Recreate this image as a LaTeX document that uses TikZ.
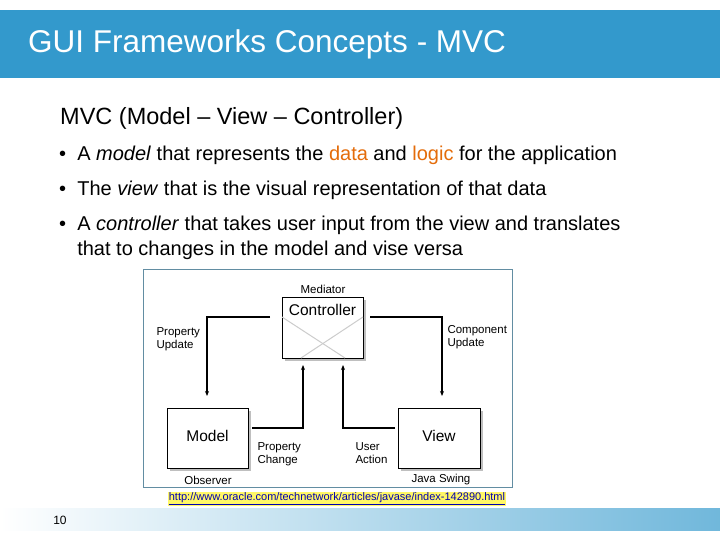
\documentclass[tikz,border=0pt]{standalone}
\usepackage{fontspec}
\setmainfont{Liberation Sans}
\usetikzlibrary{arrows.meta}
\definecolor{bar}{HTML}{3399CC}
\definecolor{orng}{HTML}{E46C0A}
\begin{document}
\begin{tikzpicture}[x=1pt,y=-1pt,
  box/.style={draw,fill=white,line width=0.8pt,inner sep=0pt},
  lab/.style={font=\fontsize{11.5}{13}\selectfont,align=left,anchor=west},
  sm/.style={font=\fontsize{11.5}{13}\selectfont},
  arr/.style={line width=1.6pt,-{Stealth[length=5pt,width=4pt]}},
  bul/.style={anchor=west,font=\fontsize{20}{25}\selectfont,align=left}]
\useasboundingbox (0,0) rectangle (720,540);
\fill[white] (0,0) rectangle (720,540);
\fill[bar] (0,10) rectangle (720,78);
\node[anchor=west,text=white,font=\fontsize{31.5}{36}\selectfont,inner sep=0pt] (title) at (28,44) {GUI Frameworks Concepts - MVC};
\shade[left color=white,right color=bar!70] (0,508) rectangle (720,530);
\node[font=\fontsize{12}{14}\selectfont] (pg) at (60,520) {10};
\node[anchor=west,inner sep=0pt,font=\fontsize{23.5}{28}\selectfont] (h) at (60,118) {MVC (Model -- View -- Controller)};
\node[bul,inner sep=0pt] (b1) at (59,155) {\textbullet\ \ A \textit{model} that represents the \textcolor{orng}{data} and \textcolor{orng}{logic} for the application};
\node[bul,inner sep=0pt] (b2) at (59,190) {\textbullet\ \ The \textit{view} that is the visual representation of that data};
\node[bul,inner sep=0pt] (b3) at (59,238) {\textbullet\ \ A \textit{controller} that takes user input from the view and translates\\\phantom{\textbullet\ \ }that to changes in the model and vise versa};
\draw[bar!60!black!70,line width=0.8pt] (143,269) rectangle (512,487);
% controller
\fill[gray!50] (285,300) rectangle (366,361);
\node[box,minimum width=81pt,minimum height=61pt] (ctl) at (322.5,327.5) {};
\draw[gray!40,line width=1pt] (282,317) -- (345,358);
\draw[gray!40,line width=1pt] (363,317) -- (301,358);
\node[font=\fontsize{15.5}{18}\selectfont] (ctlt) at (322.5,310) {Controller};
\fill[gray!50] (170,411) rectangle (251,471);
\node[box,minimum width=81pt,minimum height=60pt] (mod) at (207.5,438) {};
\node[font=\fontsize{15.5}{18}\selectfont] (modt) at (207.5,436) {Model};
\fill[gray!50] (401,411) rectangle (483,471);
\node[box,minimum width=82pt,minimum height=60pt] (view) at (439,438) {};
\node[font=\fontsize{15.5}{18}\selectfont] (viewt) at (439,436) {View};
\coordinate (c1) at (270,317); \coordinate (c2) at (370,317);
\draw[arr] (c1) -| (207,396);
\draw[arr] (c2) -| (442,396);
\coordinate (m1) at (252,428); \coordinate (v1) at (395,428);
\draw[arr] (m1) -| (303,365);
\draw[arr] (v1) -| (343,365);
\node[sm] (med) at (323,289) {Mediator};
\node[lab] (pu) at (153,339) {Property\\Update};
\node[lab] (cu) at (444,337) {Component\\Update};
\node[lab] (pc) at (254,454) {Property\\Change};
\node[lab] (ua) at (352,453) {User\\Action};
\node[sm] (obs) at (208,480) {Observer};
\node[sm] (js) at (441,480) {Java Swing};
\node[fill=yellow!60,inner sep=1pt,text=blue!70!black,font=\fontsize{11}{12}\selectfont] (url) at (337,499) {\underline{http://www.oracle.com/technetwork/articles/javase/index-142890.html}};
\end{tikzpicture}
\end{document}
